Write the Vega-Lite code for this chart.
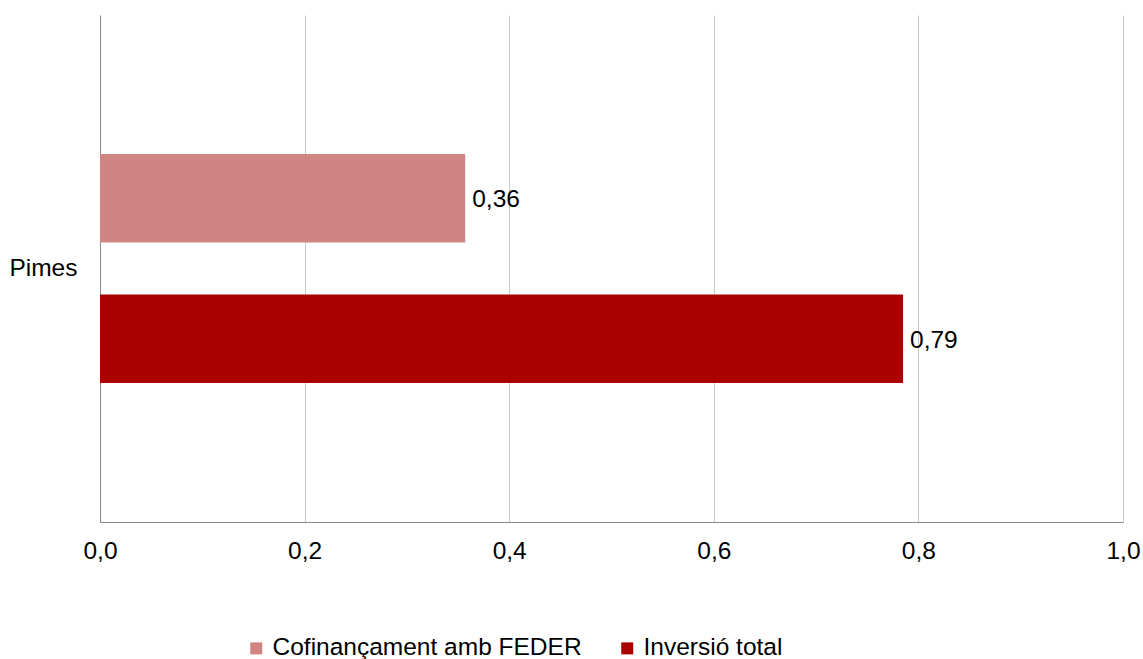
{
  "$schema": "https://vega.github.io/schema/vega-lite/v6.json",
  "width": 1023,
  "height": 507,
  "autosize": {"type": "none"},
  "padding": {"left": 100, "top": 15, "right": 20, "bottom": 137},
  "background": "white",
  "config": {
    "font": "Liberation Sans",
    "view": {"stroke": null},
    "locale": {"number": {"decimal": ",", "thousands": ".", "grouping": [3], "currency": ["", " €"]}}
  },
  "data": {
    "values": [
      {"cat": "Pimes", "series": "Cofinançament amb FEDER", "value": 0.357},
      {"cat": "Pimes", "series": "Inversió total", "value": 0.785}
    ]
  },
  "encoding": {
    "y": {
      "field": "cat", "type": "nominal",
      "scale": {"paddingInner": 0, "paddingOuter": 0},
      "axis": {"title": null, "domainColor": "#888888", "domainWidth": 1, "ticks": false, "labelFontSize": 24.5, "labelColor": "#000000", "labelPadding": 23, "labelFont": "Liberation Sans"}
    },
    "yOffset": {
      "field": "series", "type": "nominal",
      "sort": ["Cofinançament amb FEDER", "Inversió total"],
      "scale": {"paddingInner": 0.37, "paddingOuter": 0.99}
    },
    "x": {
      "field": "value", "type": "quantitative",
      "scale": {"domain": [0, 1], "nice": false, "zero": true},
      "axis": {"title": null, "values": [0, 0.2, 0.4, 0.6, 0.8, 1.0], "format": ".1f", "grid": true, "gridColor": "#C8C8C8", "gridWidth": 1, "domainColor": "#888888", "ticks": false, "labelFontSize": 24.5, "labelColor": "#000000", "labelPadding": 17, "labelFont": "Liberation Sans", "labelFlush": false}
    }
  },
  "layer": [
    {
      "mark": {"type": "bar"},
      "encoding": {
        "color": {
          "field": "series", "type": "nominal",
          "scale": {"domain": ["Cofinançament amb FEDER", "Inversió total"], "range": ["#D18583", "#AA0000"]},
          "legend": {
            "title": null, "orient": "none", "direction": "horizontal",
            "legendX": 144, "legendY": 621,
            "symbolType": "square", "symbolSize": 144, "symbolStrokeWidth": 0,
            "labelFontSize": 24.5, "labelColor": "#000000", "labelFont": "Liberation Sans",
            "labelOffset": 4, "columnPadding": 33, "labelLimit": 500
          }
        }
      }
    },
    {
      "mark": {"type": "text", "align": "left", "baseline": "middle", "dx": 7, "dy": 2, "fontSize": 24.5, "color": "#000000", "font": "Liberation Sans"},
      "encoding": {
        "text": {"field": "value", "type": "quantitative", "format": ".2f"}
      }
    }
  ]
}
